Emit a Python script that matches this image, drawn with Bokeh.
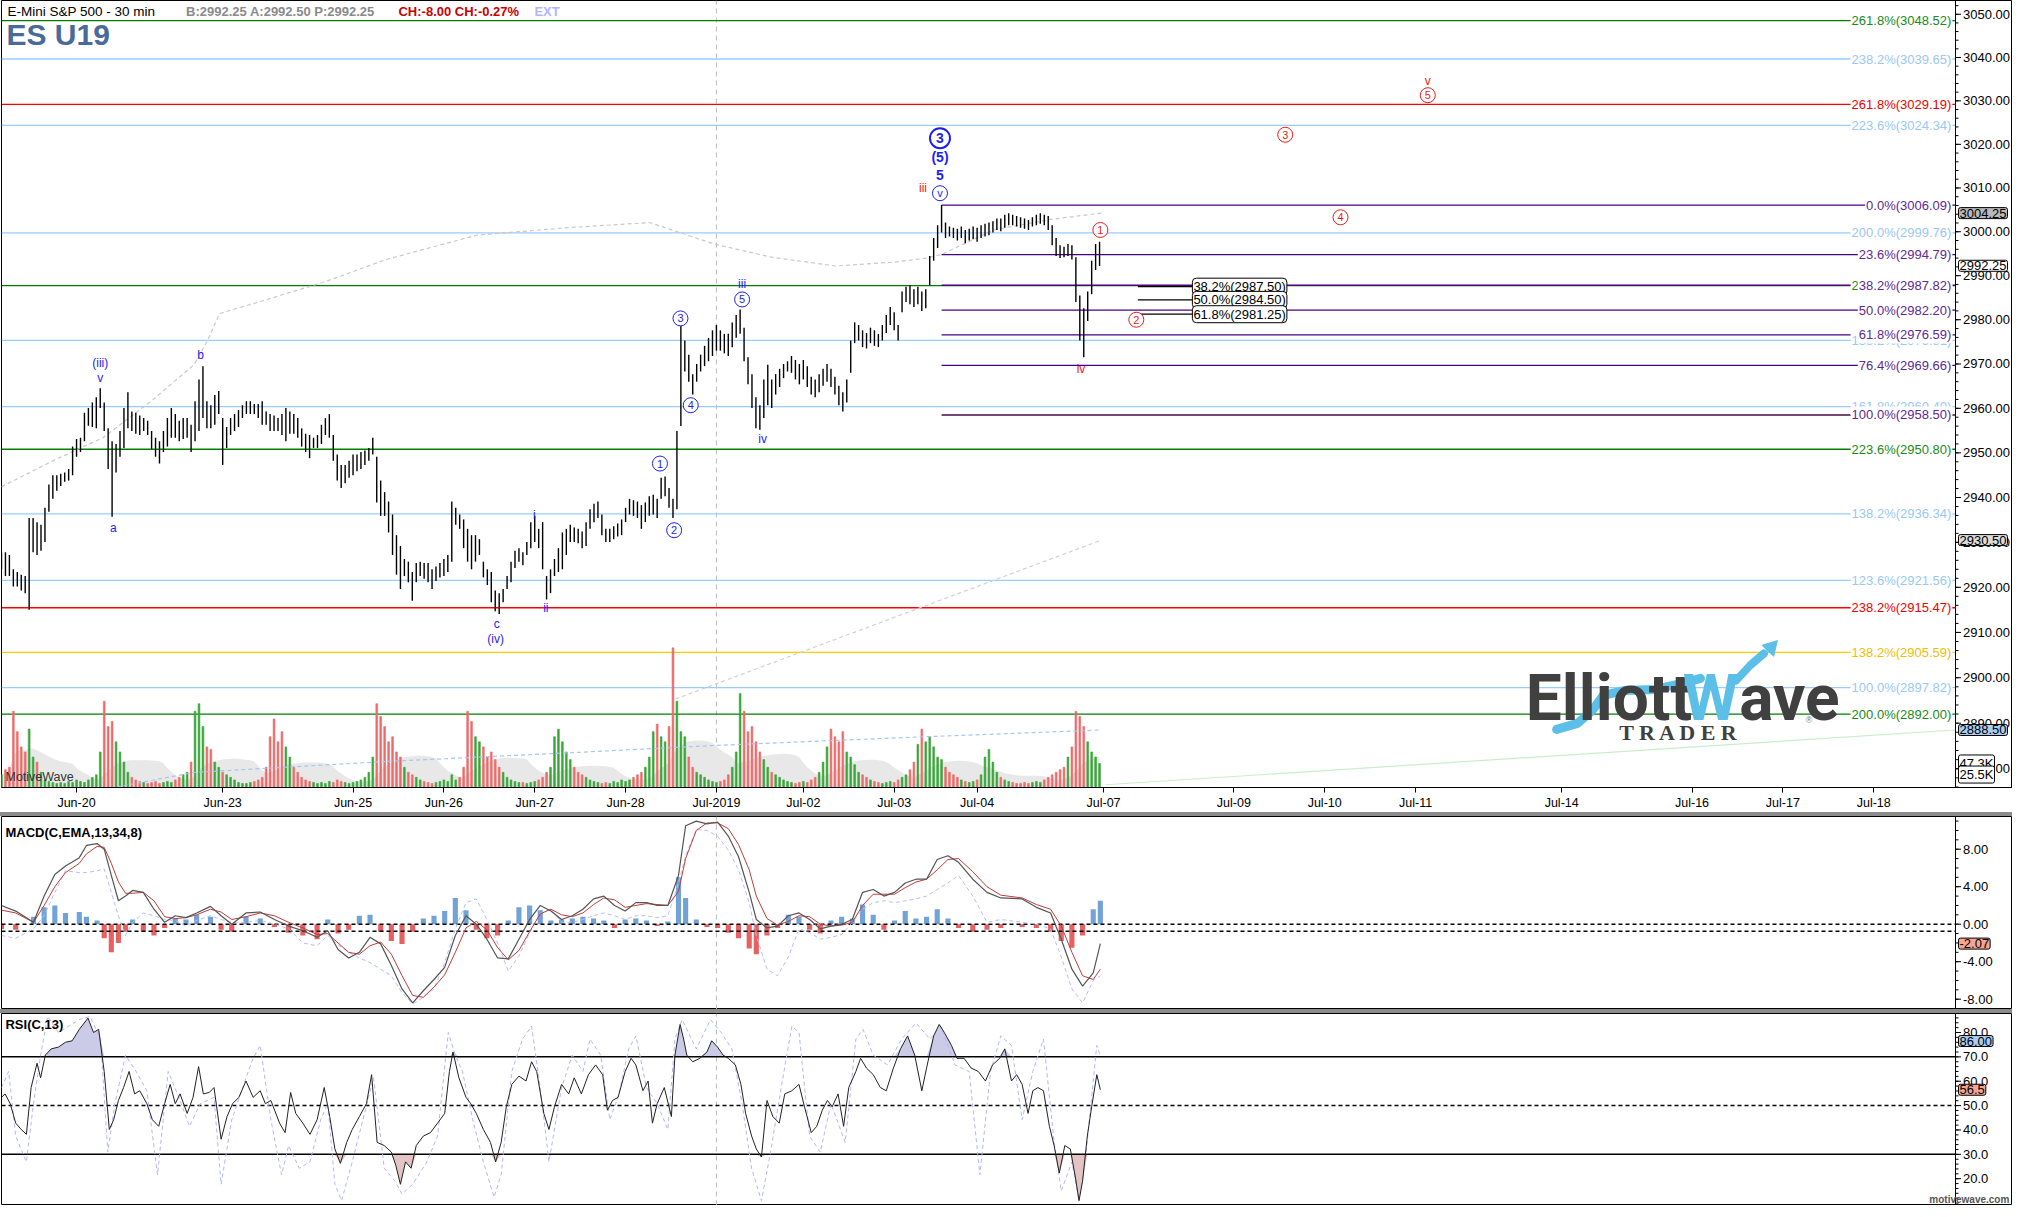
import math
import numpy as np
import pandas as pd
from bokeh.plotting import figure
from bokeh.layouts import column
from bokeh.models import (Range1d, LinearScale, FixedTicker, Label, Div)
from bokeh.core.properties import value
from bokeh.embed import file_html
from bokeh.resources import INLINE

FONT = "Liberation Sans"

# ------------------------------------------------------------------ data
xtick_pos = [19, 56, 89, 112, 135, 158, 181, 203, 226, 247, 279, 312, 335, 358, 395, 428, 451, 474]
xtick_labels = ["Jun-20", "Jun-23", "Jun-25", "Jun-26", "Jun-27", "Jun-28", "Jul-2019", "Jul-02",
                "Jul-03", "Jul-04", "Jul-07", "Jul-09", "Jul-10", "Jul-11", "Jul-14", "Jul-16",
                "Jul-17", "Jul-18"]
month_start = 181

price_ticks = [2880, 2890, 2900, 2910, 2920, 2930, 2940, 2950, 2960, 2970, 2980, 2990,
               3000, 3010, 3020, 3030, 3040, 3050]
macd_ticks = [-8, -4, 0, 4, 8]
rsi_ticks = [20, 30, 40, 50, 60, 70, 80]

# hourly bars (high / low)
bar_high = [
    2927.8, 2927.8, 2927.2, 2924.0, 2923.4, 2922.8, 2922.5, 2935.4, 2935.4, 2934.5,
    2933.9, 2937.7, 2942.9, 2945.0, 2945.0, 2945.3, 2945.6, 2946.4, 2951.4, 2953.1,
    2953.4, 2959.0, 2960.1, 2961.3, 2962.5, 2964.5, 2961.3, 2955.5, 2952.6, 2952.0,
    2954.9, 2960.1, 2963.6, 2959.3, 2959.0, 2958.4, 2957.8, 2957.2, 2954.9, 2953.4,
    2952.6, 2954.9, 2957.8, 2960.1, 2958.7, 2957.2, 2957.8, 2957.8, 2956.3, 2961.6,
    2966.5, 2969.5, 2961.6, 2960.7, 2963.0, 2963.9, 2957.8, 2955.8, 2957.8, 2958.7,
    2959.6, 2960.7, 2961.6, 2961.6, 2961.0, 2961.0, 2961.6, 2959.3, 2958.7, 2958.4,
    2957.8, 2958.7, 2960.1, 2959.3, 2958.7, 2957.8, 2955.5, 2954.3, 2954.0, 2953.4,
    2954.0, 2956.3, 2957.8, 2958.7, 2954.0, 2949.6, 2947.3, 2947.3, 2948.2, 2949.6,
    2949.6, 2950.2, 2950.5, 2951.1, 2953.4, 2949.1, 2943.8, 2941.2, 2939.1, 2936.2,
    2931.6, 2929.2, 2926.3, 2925.7, 2923.4, 2925.4, 2925.7, 2925.4, 2925.4, 2924.0,
    2924.6, 2925.4, 2926.3, 2927.2, 2939.1, 2937.7, 2936.2, 2935.1, 2933.0, 2931.6,
    2931.6, 2930.7, 2925.7, 2924.0, 2923.4, 2919.3, 2918.7, 2919.6, 2922.5, 2925.7,
    2928.1, 2928.7, 2927.8, 2930.1, 2934.5, 2935.9, 2933.0, 2934.5, 2922.5, 2924.0,
    2926.3, 2928.7, 2932.2, 2933.0, 2933.9, 2933.3, 2933.0, 2932.4, 2934.5, 2937.4,
    2938.6, 2939.1, 2936.2, 2933.0, 2933.0, 2933.6, 2934.2, 2935.1, 2937.7, 2939.7,
    2939.4, 2939.1, 2938.3, 2938.9, 2940.3, 2940.6, 2939.7, 2944.4, 2944.7, 2942.1,
    2939.7, 2954.9, 2980.2, 2975.3, 2972.1, 2967.7, 2970.0, 2972.1, 2974.1, 2975.9,
    2977.6, 2978.8, 2977.6, 2976.8, 2976.8, 2979.4, 2981.1, 2982.3, 2978.2, 2971.5,
    2967.7, 2962.5, 2960.7, 2966.5, 2969.8, 2966.5, 2967.7, 2968.9, 2970.0, 2970.6,
    2971.8, 2970.9, 2970.0, 2970.9, 2969.5, 2967.1, 2966.5, 2967.7, 2968.9, 2970.0,
    2968.9, 2967.1, 2965.1, 2963.6, 2966.5, 2975.3, 2979.4, 2978.8, 2977.6, 2977.0,
    2978.2, 2977.6, 2976.8, 2978.8, 2981.1, 2982.9, 2981.7, 2978.8, 2986.4, 2987.5,
    2987.8, 2986.9, 2987.5, 2986.4, 2986.9, 2994.5, 2998.6, 3001.5, 3006.1, 3002.1,
    3001.2, 3000.9, 3000.7, 3001.2, 3000.4, 3000.7, 3001.2, 3000.9, 3001.5, 3001.8,
    3002.1, 3002.4, 3003.0, 3003.0, 3003.9, 3004.2, 3003.9, 3003.6, 3003.3, 3003.0,
    3002.7, 3003.3, 3003.9, 3004.2, 3003.9, 3003.6, 3001.5, 2998.6, 2996.9, 2996.6,
    2997.2, 2996.9, 2994.2, 2985.5, 2982.6, 2986.4, 2993.4, 2997.2, 2997.7]
bar_low = [
    2924.0, 2922.5, 2922.5, 2920.2, 2920.2, 2919.3, 2918.7, 2915.0, 2927.8, 2927.2,
    2928.1, 2930.1, 2936.8, 2939.7, 2941.5, 2942.6, 2943.5, 2943.8, 2945.0, 2949.1,
    2950.2, 2952.6, 2956.1, 2955.8, 2955.5, 2960.1, 2954.9, 2946.4, 2935.7, 2945.6,
    2949.1, 2951.1, 2955.5, 2954.9, 2954.3, 2954.0, 2954.9, 2954.0, 2950.8, 2949.1,
    2947.6, 2950.2, 2951.4, 2953.4, 2953.4, 2952.6, 2953.1, 2953.4, 2950.2, 2952.6,
    2954.9, 2957.8, 2955.5, 2955.5, 2956.3, 2958.7, 2947.3, 2951.1, 2954.0, 2954.9,
    2955.8, 2957.8, 2958.7, 2958.7, 2958.7, 2957.8, 2956.3, 2956.3, 2954.9, 2954.9,
    2954.9, 2954.0, 2952.6, 2954.3, 2954.3, 2953.4, 2951.4, 2950.2, 2948.8, 2951.1,
    2951.1, 2952.0, 2954.0, 2953.4, 2948.2, 2943.8, 2942.1, 2943.2, 2944.4, 2945.0,
    2945.9, 2946.4, 2947.3, 2948.2, 2949.6, 2938.9, 2935.9, 2935.9, 2932.2, 2927.2,
    2922.8, 2919.6, 2922.5, 2921.1, 2917.0, 2921.1, 2922.5, 2921.9, 2921.1, 2919.6,
    2921.4, 2922.2, 2922.5, 2923.4, 2925.7, 2933.9, 2933.0, 2928.7, 2925.7, 2924.0,
    2925.7, 2927.2, 2922.2, 2920.5, 2916.7, 2914.7, 2914.1, 2916.7, 2919.6, 2921.1,
    2924.3, 2925.7, 2924.9, 2927.2, 2928.7, 2930.1, 2928.7, 2924.0, 2917.3, 2918.7,
    2922.5, 2923.4, 2924.0, 2927.2, 2930.1, 2930.1, 2929.8, 2928.7, 2929.2, 2933.0,
    2934.5, 2935.4, 2931.6, 2930.1, 2930.1, 2930.7, 2931.3, 2931.6, 2934.5, 2936.2,
    2935.9, 2935.4, 2933.0, 2934.5, 2935.9, 2936.2, 2935.4, 2939.7, 2940.3, 2937.7,
    2935.4, 2937.4, 2956.0, 2968.3, 2966.0, 2963.1, 2966.0, 2968.3, 2969.5, 2970.6,
    2971.8, 2973.0, 2973.0, 2972.4, 2971.8, 2973.8, 2975.9, 2976.8, 2970.6, 2965.4,
    2960.1, 2955.5, 2955.2, 2957.8, 2960.7, 2960.1, 2963.1, 2964.8, 2966.8, 2968.3,
    2968.0, 2966.5, 2965.4, 2966.5, 2964.8, 2963.1, 2962.5, 2963.6, 2965.1, 2966.0,
    2964.8, 2963.1, 2960.7, 2959.3, 2961.3, 2968.0, 2974.7, 2975.3, 2973.8, 2973.5,
    2974.7, 2974.1, 2973.8, 2975.3, 2977.0, 2978.8, 2977.6, 2975.3, 2981.7, 2984.0,
    2983.5, 2982.9, 2983.5, 2982.0, 2982.6, 2987.8, 2993.4, 2996.3, 2999.8, 2998.6,
    2998.9, 2998.6, 2998.0, 2998.6, 2997.4, 2998.0, 2998.3, 2997.7, 2998.6, 2998.9,
    2999.2, 2999.8, 3000.4, 3000.1, 3000.9, 3001.5, 3001.5, 3001.2, 3000.9, 3000.7,
    3000.4, 3001.2, 3001.5, 3001.8, 3001.5, 3000.4, 2996.9, 2994.5, 2994.0, 2994.2,
    2994.5, 2993.7, 2984.0, 2975.3, 2971.5, 2979.7, 2985.8, 2991.3, 2992.2]

# volume per bar (thousands)
volume_k = [
    25, 35, 40, 150, 110, 80, 70, 115, 60, 50, 30,
    15, 12, 10, 8, 10, 8, 12, 10, 15, 12, 10, 15, 20, 25,
    70, 170, 120, 130, 90, 70, 50,
    30, 20, 15, 12, 10, 8, 10, 12, 8, 10, 12, 10, 15, 20, 25, 30,
    50, 150, 165, 120, 80, 75, 50, 40,
    30, 25, 20, 15, 10, 8, 8, 10, 12, 15, 20,
    40, 100, 135, 90, 110, 80, 60, 40,
    30, 20, 15, 12, 10, 8, 10, 8, 12, 10, 15, 12, 10, 8, 10, 12, 15, 20, 30,
    60, 165, 140, 120, 90, 100, 70, 60,
    40, 30, 25, 20, 15, 12, 10, 8, 10, 12, 15, 12, 25, 15, 20,
    40, 150, 130, 100, 90, 80, 60, 70, 55, 40,
    30, 20, 15, 12, 10, 10, 8, 10, 12, 15, 20, 30,
    40, 100, 115, 90, 70, 55, 40,
    30, 25, 20, 15, 12, 10, 8, 10, 8, 12, 10, 15, 12, 15, 20, 25, 30,
    40, 60, 110, 125, 100, 90, 120, 275, 170, 110, 100, 60, 40,
    30, 25, 20, 15, 12, 10, 12, 15, 25,
    40, 70, 185, 150, 110, 120, 90, 70, 55,
    40, 30, 25, 20, 15, 12, 10, 8, 10, 12, 10, 15, 20, 30,
    50, 80, 115, 100, 90, 110, 70, 60, 45,
    30, 25, 20, 15, 12, 10, 8, 10, 12, 10, 15, 20, 25, 35,
    50, 85, 115, 90, 100, 80, 60, 55,
    40, 30, 25, 20, 15, 12, 10, 12, 15, 25,
    60, 75, 50,
    30, 20, 15, 12, 10, 8, 8, 10, 8, 10, 12, 10, 15, 20, 25, 30, 35,
    40, 60, 80, 150, 140, 120, 90, 70, 60, 47.3]

# moving averages / trend lines drawn on the price pane
ma_x = [0, 13, 25.7, 38.3, 48.7, 52, 55.2, 65, 81.2, 97.5, 120.2, 143, 164.1, 180.4,
        195, 211.2, 226.2, 234.3, 237.9, 251.2, 265.5, 278.5]
ma_price = [2942.4, 2948.2, 2953.4, 2961.9, 2969.8, 2975.0, 2981.4, 2984.0, 2988.4, 2993.7,
            2999.2, 3000.9, 3002.1, 2997.2, 2994.2, 2992.2, 2993.1, 2994.0, 2994.8, 3000.4,
            3002.8, 3004.25]
lma_x = [29.2, 48.7, 97.5, 146.2, 180.4, 227.5, 278.5]
lma_price = [2876.0, 2879.2, 2881.6, 2883.6, 2885.1, 2886.8, 2888.5]
reg_x = [170.6, 278.5]
reg_price = [2895.3, 2930.5]
trend_x = [279.5, 494.6]
trend_price = [2876.5, 2888.5]

# Fibonacci levels
fib_pct = ["261.8%", "238.2%", "261.8%", "223.6%", "200.0%", "261.8%", "138.2%", "161.8%",
           "223.6%", "138.2%", "123.6%", "238.2%", "138.2%", "100.0%", "200.0%",
           "0.0%", "23.6%", "38.2%", "50.0%", "61.8%", "76.4%", "100.0%"]
fib_value = [3048.52, 3039.65, 3029.19, 3024.34, 2999.76, 2987.75, 2975.31, 2960.40,
             2950.80, 2936.34, 2921.56, 2915.47, 2905.59, 2897.82, 2892.00,
             3006.09, 2994.79, 2987.82, 2982.20, 2976.59, 2969.66, 2958.50]
fib_set = ["g", "b", "r", "b", "b", "g", "b", "b", "g", "b", "b", "r", "y", "b", "g",
           "p", "p", "p", "p", "p", "p", "q"]

# retracement box
retr_pct = ["38.2%", "50.0%", "61.8%"]
retr_value = [2987.50, 2984.50, 2981.25]
retr_x = [287.7, 301.5]

# wave labels
wave_text = ["(iii)", "v", "a", "b", "c", "(iv)", "i", "ii", "1", "2", "3", "4", "iii", "5",
             "iv", "v", "5", "(5)", "3", "iii", "1", "iv", "2", "3", "4", "5", "v"]
wave_x = [25.0, 25.0, 28.3, 50.4, 125.4, 125.1, 134.9, 137.8, 166.7, 170.3, 171.9, 174.5,
          187.5, 187.5, 192.7, 237.6, 237.6, 237.6, 237.6, 233.3, 278.2, 273.3, 287.3,
          325.0, 339.0, 361.1, 361.1]
wave_y = [2970.3, 2966.8, 2933.3, 2972.1, 2911.9, 2908.6, 2936.2, 2915.5, 2947.6, 2932.7,
          2980.3, 2960.7, 2988.1, 2984.6, 2953.1, 3008.8, 3012.9, 3017.0, 3021.4, 3010.0,
          3000.4, 2968.9, 2980.0, 3022.2, 3003.3, 3031.3, 3034.5]
wave_col = ["b"] * 19 + ["r"] * 8
wave_kind = ["t", "t", "t", "t", "t", "t", "t", "t", "c", "c", "c", "c", "t", "c",
             "t", "c", "B", "B", "C", "t", "c", "t", "c", "c", "c", "c", "t"]

# MACD(C,EMA,13,34,8)
macd_x = [0.0, 3.6, 8.1, 10.8, 13.5, 16.2, 19.7, 21.5, 24.2, 26.0,
          27.8, 29.6, 31.4, 33.2, 35.9, 38.6, 41.3, 44.0, 46.7, 49.4,
          52.9, 55.6, 58.3, 61.9, 65.5, 69.1, 72.7, 76.3, 79.9, 82.6,
          85.2, 87.9, 90.6, 93.3, 96.0, 98.7, 101.4, 104.1, 106.8, 109.5,
          112.2, 114.9, 117.6, 120.2, 122.9, 125.6, 128.3, 131.0, 133.7, 136.4,
          139.1, 141.8, 144.5, 147.2, 149.9, 152.5, 155.2, 157.9, 160.6, 163.3,
          166.0, 168.7, 171.4, 173.2, 175.9, 178.6, 181.3, 184.0, 186.6, 189.3,
          191.1, 193.8, 196.5, 199.2, 201.9, 204.6, 207.3, 210.0, 212.7, 215.4,
          218.0, 220.7, 223.4, 226.1, 228.8, 231.5, 234.2, 236.9, 239.6, 242.3,
          245.9, 249.5, 253.0, 258.4, 262.0, 265.6, 268.3, 271.0, 273.7, 276.4,
          278.2]
macd_line = [2.0, 1.4, 0.2, 3.0, 5.3, 6.2, 7.1, 8.4, 8.6, 8.0,
             5.2, 2.5, 3.0, 3.6, 3.4, 1.6, 0.2, 0.9, 0.7, 1.2,
             1.9, 0.9, 0.0, 1.2, 1.3, 0.5, -0.2, -0.7, -1.4, -0.7,
             -2.7, -3.6, -3.0, -1.4, -2.1, -4.4, -6.9, -8.4, -7.1, -5.9,
             -4.6, -1.2, 0.9, 0.0, -1.6, -3.6, -3.7, -1.6, 0.5, 2.0,
             1.4, 0.5, 0.9, 1.6, 2.7, 3.0, 2.0, 1.4, 2.3, 2.3,
             2.0, 2.0, 5.2, 10.5, 11.0, 10.7, 10.9, 9.4, 7.2, 3.4,
             0.5, -0.4, -0.2, 0.9, 1.2, 0.5, -0.5, -0.2, 0.0, 0.5,
             3.4, 3.7, 3.0, 3.4, 4.4, 4.8, 4.8, 6.9, 7.3, 6.6,
             4.8, 3.4, 2.8, 2.7, 1.8, 1.2, -1.6, -4.8, -6.6, -5.2,
             -2.07]
macd_signal = [1.5, 1.2, 0.2, 2.0, 4.0, 5.5, 6.5, 7.5, 8.3, 8.2,
               6.5, 4.5, 3.3, 3.3, 3.4, 2.5, 0.8, 0.6, 0.7, 1.0,
               1.6, 1.3, 0.5, 0.8, 1.2, 0.9, 0.2, -0.4, -1.1, -1.0,
               -2.0, -3.0, -3.2, -2.3, -1.9, -3.2, -5.5, -7.6, -7.8, -6.7,
               -5.4, -3.0, -0.4, 0.3, -0.6, -2.5, -3.8, -2.8, -0.8, 1.1,
               1.6, 1.0, 0.8, 1.2, 2.1, 2.8, 2.6, 1.8, 2.0, 2.2,
               2.1, 2.0, 3.5, 7.0, 10.0, 10.8, 10.8, 10.2, 8.5, 5.8,
               3.0, 0.6, -0.1, 0.3, 0.9, 0.8, 0.0, -0.2, -0.1, 0.2,
               2.0, 3.2, 3.2, 3.2, 3.9, 4.5, 4.8, 5.8, 6.9, 7.0,
               5.6, 4.0, 3.1, 2.8, 2.1, 1.6, -0.2, -3.0, -5.5, -5.9,
               -4.8]
macd_alt = [-1.2, -1.5, -0.5, 0.9, 3.4, 5.7, 5.5, 5.5, 5.7, 5.9,
            3.4, 0.9, -1.2, 0.2, 1.2, 0.9, 0.5, 0.4, -0.2, 0.4,
            0.9, 0.5, 0.2, 0.2, 0.4, 0.0, -0.5, -2.0, -2.3, -1.2,
            -2.2, -3.0, -3.6, -4.1, -4.8, -5.5, -7.3, -8.5, -7.8, -6.9,
            -4.1, -0.5, 2.3, 2.7, 0.5, -2.0, -5.0, -3.4, -0.9, 1.2,
            1.6, 0.2, 0.2, 0.5, 0.9, 1.2, 0.9, 0.5, 0.9, 0.9,
            0.7, 0.9, 4.4, 7.3, 10.1, 10.0, 9.4, 7.9, 5.8, 2.3,
            -1.2, -4.8, -5.5, -3.5, -0.5, -0.9, -1.6, -1.4, -1.1, 0.2,
            1.6, 2.3, 2.5, 2.3, 2.5, 2.7, 3.0, 3.7, 4.4, 5.2,
            3.0, 0.2, 0.5, 0.2, 0.0, -0.5, -3.5, -6.9, -8.4, -6.0,
            -5.5]
macd_hist = [-0.5, -0.6, 0.8, 1.8, 2.0, 1.2, 1.3, 0.8, 0.4, -1.5,
             -3.0, -2.0, -0.8, 0.5, -0.8, -1.2, -0.4, 0.6, 0.5, 1.0,
             0.8, -0.6, -0.8, 0.8, 0.6, -0.3, -0.9, -1.2, -1.6, 0.5,
             -1.0, -0.6, 0.9, 1.0, -0.8, -1.8, -2.1, -0.8, 0.6, 0.9,
             1.4, 2.8, 1.5, -0.6, -1.5, -1.2, 0.4, 1.8, 2.0, 1.5,
             0.4, 0.5, 0.6, 0.8, 0.6, 0.4, -0.4, 0.5, 0.6, 0.4,
             -0.2, 0.3, 5.0, 2.8, 0.5, -0.3, -0.4, -0.9, -1.5, -2.6,
             -3.2, -1.2, -0.4, 1.0, 0.8, -0.6, -1.0, 0.4, 0.8, 0.6,
             2.1, 1.0, -0.6, 0.4, 1.4, 0.6, 0.8, 1.6, 0.6, -0.4,
             -0.8, -0.6, -0.4, -0.3, -0.4, -0.8, -1.8, -2.5, -1.2, 1.6,
             2.5]

# RSI(C,13)
rsi_x = [0.0, 0.9, 2.2, 3.6, 5.0, 6.3, 7.5, 9.0, 9.9, 11.1,
         12.6, 14.4, 16.2, 17.9, 19.7, 21.9, 23.3, 24.6, 26.0, 27.3,
         28.4, 29.6, 30.9, 32.3, 33.7, 35.0, 36.8, 38.2, 39.8, 41.3,
         42.7, 44.0, 45.2, 47.0, 48.5, 49.9, 51.1, 52.6, 53.8, 55.6,
         57.1, 58.5, 60.1, 61.9, 63.7, 65.5, 66.8, 68.2, 70.4, 71.8,
         73.2, 74.5, 76.3, 78.1, 79.9, 81.7, 83.1, 84.4, 85.8, 87.4,
         88.8, 90.6, 92.4, 93.7, 95.1, 96.9, 98.7, 99.8, 101.0, 102.3,
         103.7, 105.0, 106.8, 108.6, 110.4, 112.2, 113.4, 114.3, 115.8, 117.6,
         118.8, 120.2, 122.0, 123.8, 125.1, 126.5, 127.8, 129.2, 131.0, 132.8,
         134.2, 135.5, 137.3, 138.6, 140.0, 141.8, 143.6, 145.0, 146.8, 148.6,
         150.4, 152.2, 153.4, 154.7, 156.1, 157.9, 159.4, 160.6, 162.4, 163.7,
         164.8, 166.0, 167.8, 169.6, 170.5, 171.8, 172.7, 173.5, 175.0, 176.8,
         178.6, 179.8, 181.3, 182.7, 184.0, 185.8, 187.2, 188.4, 189.9, 191.1,
         192.4, 193.8, 195.3, 196.9, 198.3, 200.1, 201.9, 203.3, 205.0, 206.4,
         207.8, 209.1, 210.3, 211.8, 213.2, 214.5, 216.3, 217.5, 219.0, 220.7,
         222.5, 224.0, 225.8, 227.6, 229.4, 231.2, 233.0, 234.2, 236.0, 237.4,
         238.7, 240.5, 241.9, 243.7, 245.5, 247.3, 249.1, 250.9, 252.7, 254.0,
         255.7, 257.0, 258.4, 259.9, 261.1, 262.4, 263.8, 265.3, 266.5, 267.8,
         269.2, 270.6, 271.9, 272.8, 273.7, 274.9, 276.0, 277.3, 278.2]
rsi_line = [53.4, 54.8, 50.8, 42.8, 40.2, 38.2, 57.4, 67.4, 61.4, 70.7,
            73.3, 74.0, 76.0, 76.6, 81.3, 85.9, 80.0, 81.3, 64.0, 40.2,
            44.2, 52.1, 57.4, 64.0, 54.8, 56.1, 50.8, 44.2, 41.5, 50.8,
            58.7, 50.8, 54.8, 46.8, 53.4, 66.0, 54.8, 55.4, 57.4, 36.2,
            45.5, 50.8, 53.4, 60.1, 53.4, 56.1, 50.8, 52.1, 42.8, 38.9,
            55.4, 46.8, 42.8, 38.2, 44.2, 57.4, 45.5, 32.2, 26.3, 34.9,
            40.2, 45.5, 50.8, 62.7, 34.9, 33.6, 30.9, 25.6, 17.7, 26.9,
            24.3, 33.6, 37.5, 38.9, 42.8, 46.8, 64.0, 72.0, 61.4, 53.4,
            50.8, 46.8, 40.2, 34.9, 26.9, 34.9, 49.5, 58.7, 62.1, 60.1,
            68.0, 64.0, 46.8, 40.2, 49.5, 58.7, 54.8, 61.4, 54.8, 62.7,
            66.7, 62.7, 48.1, 52.1, 53.4, 64.0, 69.4, 66.7, 56.1, 60.1,
            42.8, 50.8, 57.4, 45.5, 70.7, 83.3, 77.3, 70.7, 68.0, 69.4,
            72.0, 76.6, 74.0, 70.7, 69.4, 66.7, 58.7, 46.8, 37.5, 32.2,
            28.9, 52.1, 45.5, 42.8, 54.8, 56.1, 58.7, 49.5, 38.9, 41.5,
            48.1, 52.1, 49.5, 54.8, 41.5, 57.4, 64.0, 69.4, 65.4, 62.7,
            57.4, 56.1, 65.4, 73.3, 78.6, 70.7, 56.1, 65.4, 78.6, 83.3,
            80.0, 74.7, 69.4, 69.4, 65.4, 64.0, 60.1, 66.7, 69.4, 73.3,
            60.1, 62.7, 58.7, 46.8, 56.1, 57.4, 56.1, 41.5, 33.6, 22.3,
            33.6, 32.2, 20.3, 11.0, 19.0, 37.5, 49.5, 62.7, 56.5]
rsi2_x = [0.0, 1.8, 3.6, 6.3, 8.1, 9.9, 11.7, 14.4, 17.0, 19.7,
          22.4, 25.1, 26.9, 28.7, 31.4, 34.1, 36.8, 39.5, 42.2, 44.9,
          47.6, 50.3, 53.8, 55.6, 58.3, 61.9, 63.7, 65.5, 68.2, 70.9,
          72.7, 75.4, 78.1, 80.8, 82.6, 84.4, 86.1, 88.8, 91.5, 94.2,
          96.9, 99.6, 101.4, 104.1, 107.7, 110.4, 113.1, 114.9, 116.7, 119.3,
          122.0, 124.7, 126.5, 129.2, 131.9, 134.2, 136.4, 138.6, 141.8, 144.5,
          147.2, 149.0, 151.7, 154.0, 156.1, 158.8, 160.6, 163.3, 166.0, 168.7,
          170.5, 172.3, 175.9, 179.5, 182.2, 184.9, 187.5, 189.9, 192.4, 194.7,
          197.4, 200.1, 201.9, 204.6, 207.3, 210.0, 213.6, 216.3, 218.1, 220.7,
          224.3, 227.9, 231.5, 235.1, 237.8, 241.4, 245.0, 247.7, 250.4, 253.0,
          255.7, 258.4, 261.1, 263.8, 266.5, 268.3, 271.0, 272.8, 274.6, 277.3, 278.2]
rsi2_line = [57.4, 64, 37.5, 26.9, 50.8, 70.7, 86.6, 80, 82.6, 85.3,
             86.6, 77.3, 30.9, 50.8, 70.7, 64, 56.1, 21.6, 64, 53.4,
             41.5, 50.8, 53.4, 17.7, 44.2, 61.4, 69.4, 74.7, 44.2, 21.6,
             33.6, 24.3, 26.9, 44.2, 50.8, 17.7, 11.0, 26.9, 44.2, 61.4,
             24.3, 19.0, 13.7, 17.7, 26.9, 37.5, 80.0, 70.7, 64, 44.2,
             26.9, 12.4, 21.6, 64, 77.3, 82.6, 57.4, 26.9, 57.4, 70.7,
             64, 77.3, 70.7, 44.2, 53.4, 73.3, 78.6, 57.4, 50.8, 40.2,
             77.3, 85.3, 73.3, 85.3, 80.0, 73.3, 50.8, 24.3, 11.0, 30.9,
             57.4, 82.6, 80.0, 37.5, 30.9, 50.8, 34.9, 77.3, 81.3, 70.7,
             66.7, 77.3, 83.9, 77.3, 82.6, 66.7, 64, 21.6, 64, 78.6,
             74.7, 44.2, 64, 77.3, 34.9, 15.0, 26.9, 11.0, 30.9, 74.7, 70.7]

# ------------------------------------------------------------------ layout helpers
XMAX = 494.7          # right edge of the data area (bar-index units)
FW = 1954             # data area width in px
FT = 2011             # frame width incl. in-frame value axis
PPX = FW / XMAX       # px per bar index
XEND = FT / PPX
XR = Range1d(0, XEND)


def px2x(px):            # reference pixel column -> bar index
    return px / 3.98


def py2p(py):            # reference pixel row (price pane) -> price
    return 3048.52 * math.exp(-(py - 28.3) / 13155.0)


def make_fig(frame_h, y_range, y_type="linear", xaxis=False, bottom=0):
    f = figure(frame_width=FT, frame_height=frame_h, x_range=XR, y_range=y_range,
               y_axis_type=y_type, y_axis_location=None,
               x_axis_location="below" if xaxis else None,
               output_backend="svg", toolbar_location=None,
               min_border_left=1, min_border_right=0, min_border_top=0,
               min_border_bottom=bottom)
    f.grid.visible = False
    f.outline_line_color = "black"
    f.outline_line_width = 1
    f.background_fill_color = "white"
    f.border_fill_color = "white"
    return f


def value_axis(fig, ticks, minor, fmt, lo_, hi_):
    """price / indicator scale drawn at the right side of the frame"""
    fig.segment(x0=[XMAX], y0=[lo_], x1=[XMAX], y1=[hi_], line_color="black", line_width=1)
    fig.segment(x0=[XMAX] * len(minor), y0=minor, x1=[XMAX + 3 / PPX] * len(minor), y1=minor,
                line_color="black", line_width=1)
    fig.segment(x0=[XMAX] * len(ticks), y0=ticks, x1=[XMAX + 5.5 / PPX] * len(ticks), y1=ticks,
                line_color="black", line_width=1)
    fig.text(x=[XMAX + 7.5 / PPX] * len(ticks), y=ticks, text=[fmt % t for t in ticks],
             text_font=value(FONT), text_font_size="13px", text_color="black",
             text_align="left", text_baseline="middle")


def hline(fig, y, color="black", dash="solid", width=1.5):
    fig.segment(x0=[0], y0=[y], x1=[XMAX], y1=[y], line_color=color, line_dash=dash,
                line_width=width)


def add_label(fig, x, y, text, color="black", size="12.5px", align="left", baseline="middle",
              style="normal", font=FONT, **kw):
    fig.add_layout(Label(x=x, y=y, text=text, text_color=color, text_font_size=size,
                         text_align=align, text_baseline=baseline, text_font_style=style,
                         text_font=font, **kw))


def tag(fig, y, text, bg, **kw):
    add_label(fig, XMAX + 3 / PPX, y, text, size="13px", background_fill_color=bg,
              border_line_color="black", border_line_width=1, padding=1, border_radius=2, **kw)


# ------------------------------------------------------------------ price pane
PLO, PHI = 2875.9, 3053.2
p = make_fig(787, Range1d(PLO, PHI), y_type="log", xaxis=True, bottom=22)
p.extra_y_ranges = {"vol": Range1d(0, 1550)}
p.extra_y_scales = {"vol": LinearScale()}

xa = p.xaxis[0]
xa.ticker = FixedTicker(ticks=xtick_pos)
xa.major_label_overrides = {k: v for k, v in zip(xtick_pos, xtick_labels)}
xa.major_label_text_font = FONT
xa.major_label_text_font_size = "12.5px"
xa.major_label_text_color = "black"
xa.major_tick_in = 0
xa.major_tick_out = 5
xa.minor_tick_out = 0
xa.minor_tick_in = 0
xa.axis_line_color = "black"
xa.major_label_standoff = 3

n = len(bar_high)
idx = np.arange(n)
hi = np.array(bar_high)
lo = np.array(bar_low)
mid = (hi + lo) / 2
up = np.r_[True, mid[1:] >= mid[:-1]]
vol_colors = ["#3aa63a" if u else "#ee6a6a" for u in up]
vol_ma = pd.Series(volume_k).rolling(16, min_periods=1).mean().values

FIB_LINE = {"g": "#008000", "b": "#99ccff", "r": "#ff0000", "y": "#ffcc00", "p": "#4b0082",
            "q": "#4a0a40"}
FIB_TEXT = {"g": "#1a8a1a", "b": "#99c8f5", "r": "#f00000", "y": "#f2bd00", "p": "#5c2a96",
            "q": "#5c2a96"}
peak = int(np.argmax(hi))
fib_from = [peak if s in ("p", "q") else 0 for s in fib_set]

p.segment(x0=[month_start], y0=[PLO], x1=[month_start], y1=[PHI], line_color="#bdbdbd",
          line_dash="5 4", line_width=1)

# fib lines
p.segment(x0=fib_from, y0=fib_value, x1=[XMAX] * len(fib_value), y1=fib_value,
          line_color=[FIB_LINE[s] for s in fib_set], line_width=1.3)

# volume overlay
p.varea(x=idx, y1=0, y2=vol_ma, fill_color="#e8e8e8", y_range_name="vol")
p.vbar(x=idx, top=volume_k, bottom=0, width=0.45, fill_color=vol_colors,
       line_color=vol_colors, line_width=0.6, y_range_name="vol")

# moving averages & trend lines
p.line(ma_x, ma_price, line_color="#c9c9c9", line_dash="4 3", line_width=1.2)
p.line(lma_x, lma_price, line_color="#a9c6ef", line_dash="4 3", line_width=1.2)
p.line(reg_x, reg_price, line_color="#d2d2d2", line_dash="4 3", line_width=1.2)
p.line(trend_x, trend_price, line_color="#c9efc9", line_width=1.2)

# price bars
p.segment(x0=idx, y0=lo, x1=idx, y1=hi, line_color="black", line_width=1.4)

# retracement box lines
p.segment(x0=[retr_x[0]] * 3, y0=retr_value, x1=[retr_x[1]] * 3, y1=retr_value,
          line_color="black", line_width=1.2)

# value axis
value_axis(p, price_ticks, list(range(2876, 3054, 2)), "%.2f", PLO, PHI)

# fib labels (other sets first, purple on top)
order = [i for i, s in enumerate(fib_set) if s not in ("p", "q")] + \
        [i for i, s in enumerate(fib_set) if s in ("p", "q")]
for i in order:
    add_label(p, XMAX - 0.8, fib_value[i], f"{fib_pct[i]}({fib_value[i]:.2f})",
              color=FIB_TEXT[fib_set[i]], align="right", background_fill_color="white",
              padding=1, size="13px")

for pct, v in zip(retr_pct, retr_value):
    add_label(p, retr_x[1], v, f"{pct}({v:.2f})", align="left", background_fill_color="white",
              border_line_color="black", border_line_width=1, border_radius=4, padding=1,
              size="13px")

# wave labels
WAVE_C = {"b": "#1e1ef0", "r": "#ee1a1a"}
wc = [WAVE_C[c] for c in wave_col]
for kind, size, lw in (("c", 15, 1.0), ("C", 20, 2.0)):
    sel = [i for i, k in enumerate(wave_kind) if k == kind]
    p.scatter([wave_x[i] for i in sel], [wave_y[i] for i in sel], marker="circle", size=size,
              fill_color="white", line_color=[wc[i] for i in sel], line_width=lw)
for kind, fsize, fstyle in (("t", "12px", "normal"), ("c", "11px", "normal"),
                            ("B", "14px", "bold"), ("C", "14px", "bold")):
    sel = [i for i, k in enumerate(wave_kind) if k == kind]
    p.text([wave_x[i] for i in sel], [wave_y[i] for i in sel], text=[wave_text[i] for i in sel],
           text_color=[wc[i] for i in sel], text_font=value(FONT), text_font_size=fsize,
           text_font_style=fstyle, text_align="center", text_baseline="middle")

# header texts
add_label(p, px2x(6), py2p(12), "E-Mini S&P 500 - 30 min", size="13.5px", baseline="top")
add_label(p, px2x(186), py2p(12), "B:2992.25  A:2992.50  P:2992.25", color="#8a8a8a",
          size="13px", baseline="top", style="bold")
add_label(p, px2x(400), py2p(12), "CH:-8.00  CH:-0.27%", color="#cc0000", size="13px",
          baseline="top", style="bold")
add_label(p, px2x(537), py2p(12), "EXT", color="#b4b4ff", size="13px", baseline="top",
          style="bold")
add_label(p, px2x(5), py2p(42), "ES U19", color="#4a6a9a", size="30px", baseline="alphabetic",
          style="bold")
add_label(p, px2x(4), py2p(785), "MotiveWave", color="#333333", size="12.5px")

# Elliott Wave Trader logo
LOGO_BLUE = "#5bbfe8"
sw_px = [1567, 1588, 1603, 1614, 1636, 1666, 1698, 1712]
sw_py = [737, 731, 718, 703, 698, 697, 690, 686]
p.line([px2x(v) for v in sw_px], [py2p(v) for v in sw_py], line_color=LOGO_BLUE,
       line_width=9, line_cap="round", line_join="round")
sw2_px = [1748, 1762, 1776]
sw2_py = [688, 673, 661]
p.line([px2x(v) for v in sw2_px], [py2p(v) for v in sw2_py], line_color=LOGO_BLUE,
       line_width=8, line_cap="round", line_join="round")
p.scatter([px2x(1783)], [py2p(655)], marker="triangle", size=16, angle=-0.75,
          fill_color=LOGO_BLUE, line_color=LOGO_BLUE)
add_label(p, px2x(1536), py2p(706), "Elliott", color="#404040", size="64px",
          baseline="alphabetic", style="bold", font="Roboto")
add_label(p, px2x(1694), py2p(706), "W", color=LOGO_BLUE, size="64px",
          baseline="alphabetic", style="bold", font="Roboto")
add_label(p, px2x(1751), py2p(706), "ave", color="#404040", size="64px",
          baseline="alphabetic", style="bold", font="Roboto")
add_label(p, px2x(1630), py2p(740), "T  R  A  D  E  R", color="#404040", size="22px",
          baseline="alphabetic", style="bold", font="Liberation Serif")
add_label(p, px2x(1818), py2p(728), "\u00ae", color="#777777", size="9px")

# axis value tags
tag(p, 3004.25, "3004.25", "#b9b9b9")
tag(p, 2992.25, "2992.25", "white")
tag(p, 2930.50, "2930.50", "#dcdcdc")
tag(p, 2888.50, "2888.50", "#a9cdf5")
tag(p, 47.3, "47.3K", "white", y_range_name="vol")
tag(p, 25.5, "25.5K", "white", y_range_name="vol")

# ------------------------------------------------------------------ MACD pane
MLO, MHI = -9.1, 11.49
m = make_fig(193, Range1d(MLO, MHI))
m.segment(x0=[month_start], y0=[MLO], x1=[month_start], y1=[MHI], line_color="#bdbdbd",
          line_dash="5 4", line_width=1)
hist = np.array(macd_hist)
m.vbar(x=macd_x, top=np.maximum(hist, 0), bottom=0, width=1.3, fill_color="#4f8ccc",
       line_color=None, fill_alpha=0.8)
m.vbar(x=macd_x, top=0, bottom=np.minimum(hist, 0), width=1.3, fill_color="#e03a3a",
       line_color=None, fill_alpha=0.8)
hline(m, 0, dash="4 3")
hline(m, -0.75, dash="4 3")
m.line(macd_x, macd_alt, line_color="#b7bcf2", line_dash="4 3", line_width=1)
m.line(macd_x, macd_signal, line_color="#c23b3b", line_width=1)
m.line(macd_x, macd_line, line_color="#555555", line_width=1.2)
value_axis(m, macd_ticks, list(range(-9, 12)), "%.2f", MLO, MHI)
add_label(m, px2x(4), 9.8, "MACD(C,EMA,13,34,8)", size="13px", style="bold")
tag(m, -2.07, "-2.07", "#f5a593")

# ------------------------------------------------------------------ RSI pane
RLO, RHI = 9.0, 87.8
r = make_fig(192, Range1d(RLO, RHI))
r.segment(x0=[month_start], y0=[RLO], x1=[month_start], y1=[RHI], line_color="#bdbdbd",
          line_dash="5 4", line_width=1)
rs = np.array(rsi_line)
r.varea(x=rsi_x, y1=70, y2=np.maximum(rs, 70), fill_color="#cbcbe8")
r.varea(x=rsi_x, y1=np.minimum(rs, 30), y2=30, fill_color="#e3c3c3")
hline(r, 70)
hline(r, 30)
hline(r, 50, dash="4 3")
r.line(rsi2_x, rsi2_line, line_color="#b3b7f0", line_dash="4 3", line_width=1)
r.line(rsi_x, rsi_line, line_color="#222222", line_width=1)
value_axis(r, rsi_ticks, list(range(10, 88, 2)), "%.1f", RLO, RHI)
add_label(r, px2x(4), 83.3, "RSI(C,13)", size="13px", style="bold")
tag(r, 76.5, "86.00", "#a9cdf5")
tag(r, 56.5, "56.5", "#f5a593")
add_label(r, XEND - 0.8, 11.6, "motivewave.com", color="#555555", size="10px",
          align="right", style="bold")

sep1 = Div(text="", width=2012, height=4, margin=0, styles={"background-color": "#8c8c8c"})
sep2 = Div(text="", width=2012, height=4, margin=0, styles={"background-color": "#8c8c8c"})

layout = column(p, sep1, m, sep2, r, spacing=0)
open("out.html", "w").write(file_html(layout, INLINE, title="ES U19"))
